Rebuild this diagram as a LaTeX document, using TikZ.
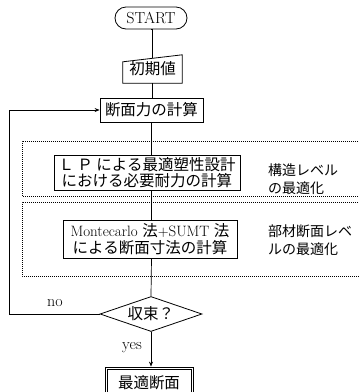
\documentclass[tikz,border=0pt]{standalone}
\usepackage{fontspec}
\newfontfamily\jp{Noto Sans CJK JP}
\usetikzlibrary{shapes.geometric,arrows.meta,calc}
\begin{document}
\begin{tikzpicture}[x=1pt,y=-1pt,
  every node/.style={font=\fontsize{16}{18}\selectfont, inner sep=0pt},
  jpf/.style={font=\fontsize{15.5}{17.5}\selectfont\jp},
  box/.style={draw, line width=0.8pt, align=center},
  region/.style={line width=0.9pt, dash pattern=on 0.7pt off 1.3pt},
  conn/.style={line width=0.7pt},
  arr/.style={conn, -{Stealth[length=5pt,width=4pt]}},
  lbl/.style={align=left, anchor=west, font=\fontsize{14}{18}\selectfont\jp}]
\useasboundingbox (0,0) rectangle (359,392);
\clip (0,0) rectangle (359,392);
% nodes
\node[box, rounded corners=11pt, minimum width=72, minimum height=22] (start) at (151,18) {START};
\node[jpf, minimum width=59, minimum height=28] (init) at (152.5,69) {初期値};
\draw[line width=0.8pt] (init.south west) -- (init.south east) -- (init.north east) -- ($(init.north west)+(0,7)$) -- cycle;
\node[box, jpf, minimum width=103, minimum height=24] (calc) at (151.5,110) {断面力の計算};
\node[box, jpf, minimum width=186, minimum height=35] (lp) at (147,172.5) {Ｌ Ｐ による最適塑性設計\\[-1pt]における必要耐力の計算};
\node[box, jpf, minimum width=174, minimum height=38] (mc) at (150,239) {{\rmfamily\fontsize{15}{17}\selectfont Montecarlo }法{\rmfamily\fontsize{15}{17}\selectfont +SUMT }法\\[-1pt]による断面寸法の計算};
\node[draw, diamond, aspect=2.9, line width=0.8pt, minimum width=102, minimum height=35, jpf] (dia) at (151,314) {収束？};
\node[box, jpf, minimum width=88, minimum height=32] (fin) at (149,383) {最適断面};
\draw[line width=0.8pt] ($(fin.south west)+(2.5,-2.5)$) rectangle ($(fin.north east)+(-2.5,2.5)$);
% labels
\node[lbl] (l1) at (268,179) {構造レベル\\の最適化};
\node[lbl] (l2) at (268,240) {部材断面レベ\\ルの最適化};
\node (no) at (55,303) {no};
\node (yes) at (132,348) {yes};
% regions
\draw[region] (362,141) -- (22,141) -- (22,196) -- (362,196);
\draw[region] (362,202) -- (22,202) -- (22,276) -- (362,276);
% connectors
\coordinate (loopx) at (9,0);
\draw[conn] (start.south) -- (init.south |- start.south) -- ($(init.north)+(0,3.5)$);
\draw[conn] (init.south) -- (init.south |- calc.north);
\draw[conn] (calc.south) -- (calc.south |- lp.north);
\draw[conn] (calc.south |- lp.south) -- (calc.south |- mc.north);
\draw[conn] (calc.south |- mc.south) -- (dia.north);
\draw[arr] (dia.south) -- (dia.south |- fin.north);
\draw[arr] (dia.west) -- (dia.west -| loopx) -- (calc.west -| loopx) -- (calc.west);
\end{tikzpicture}
\end{document}
